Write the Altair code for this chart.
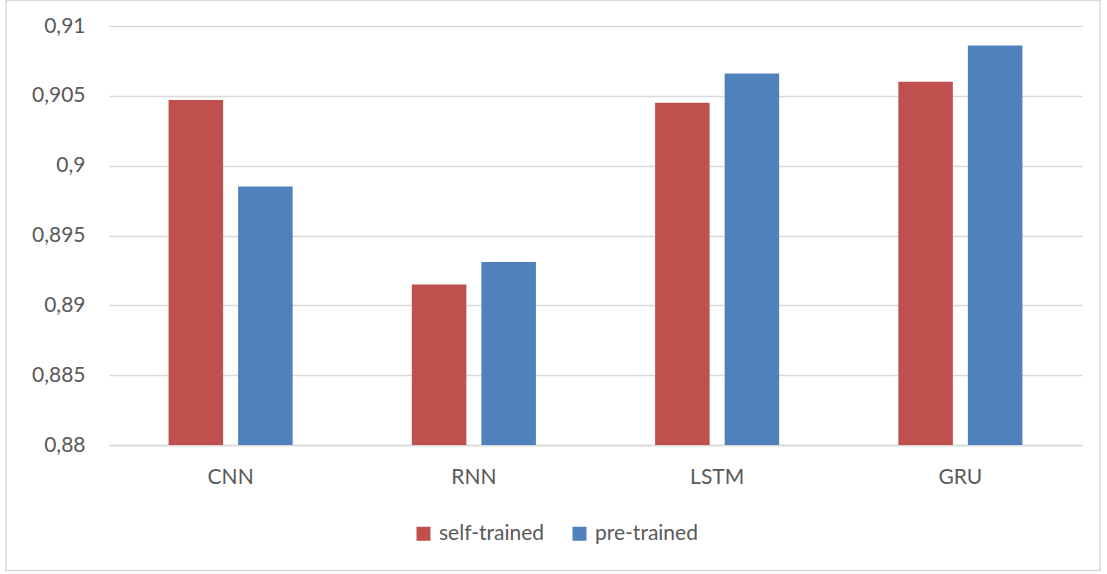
import altair as alt
import pandas as pd

models = ["CNN", "RNN", "LSTM", "GRU"]
self_trained = [0.9047, 0.8915, 0.9045, 0.9060]
pre_trained = [0.8985, 0.8931, 0.9066, 0.9086]
series = ["self-trained", "pre-trained"]
y_ticks = [0.88, 0.885, 0.89, 0.895, 0.9, 0.905, 0.91]

rows = []
for i, m in enumerate(models):
    rows.append({"model": m, "series": series[0], "value": self_trained[i]})
    rows.append({"model": m, "series": series[1], "value": pre_trained[i]})
df = pd.DataFrame(rows)

FONT = "Lato"
TEXT = "#595959"
GRID = "#d9d9d9"
FS = 21

bars = alt.Chart(df).mark_bar(clip=True).encode(
    x=alt.X(
        "model:N",
        sort=models,
        title=None,
        scale=alt.Scale(paddingInner=0.49, paddingOuter=0.245),
        axis=alt.Axis(
            labelAngle=0,
            labelFont=FONT,
            labelFontSize=FS,
            labelColor=TEXT,
            labelPadding=21,
            ticks=False,
            domainColor=GRID,
            domainWidth=1.5,
            grid=False,
        ),
    ),
    xOffset=alt.XOffset(
        "series:N", sort=series, scale=alt.Scale(paddingInner=0.216, paddingOuter=0)
    ),
    y=alt.Y(
        "value:Q",
        title=None,
        scale=alt.Scale(domain=[0.88, 0.91], zero=False, nice=False),
        axis=alt.Axis(
            values=y_ticks,
            format=".3~f",
            labelExpr="replace(datum.label, '.', ',')",
            labelFont=FONT,
            labelFontSize=FS,
            labelColor=TEXT,
            labelPadding=24,
            ticks=False,
            domain=False,
            gridColor=GRID,
            gridWidth=1.3,
        ),
    ),
    color=alt.Color(
        "series:N",
        sort=series,
        scale=alt.Scale(domain=series, range=["#C0504D", "#4F81BD"]),
        legend=alt.Legend(
            title=None,
            orient="none",
            direction="horizontal",
            legendX=304,
            legendY=497,
            symbolType="square",
            symbolSize=196,
            symbolStrokeWidth=0,
            labelFont=FONT,
            labelFontSize=FS,
            labelColor=TEXT,
            columnPadding=24,
            labelOffset=5,
        ),
    ),
)

# light grey frame around the whole chart
frame = alt.Chart(pd.DataFrame({"k": [0]})).mark_rect(
    fill=None, stroke=GRID, strokeWidth=1.5
).encode(
    x=alt.value(-103),
    x2=alt.value(991),
    y=alt.value(-25.5),
    y2=alt.value(544.5),
)

chart = (
    alt.layer(frame, bars)
    .properties(
        width=973,
        height=419,
        autosize=alt.AutoSizeParams(type="none"),
        padding={"left": 109, "top": 26, "right": 25, "bottom": 129},
        background="white",
    )
    .configure_view(stroke=None)
)

chart.save("out.html", embed_options={"renderer": "svg", "actions": False})
